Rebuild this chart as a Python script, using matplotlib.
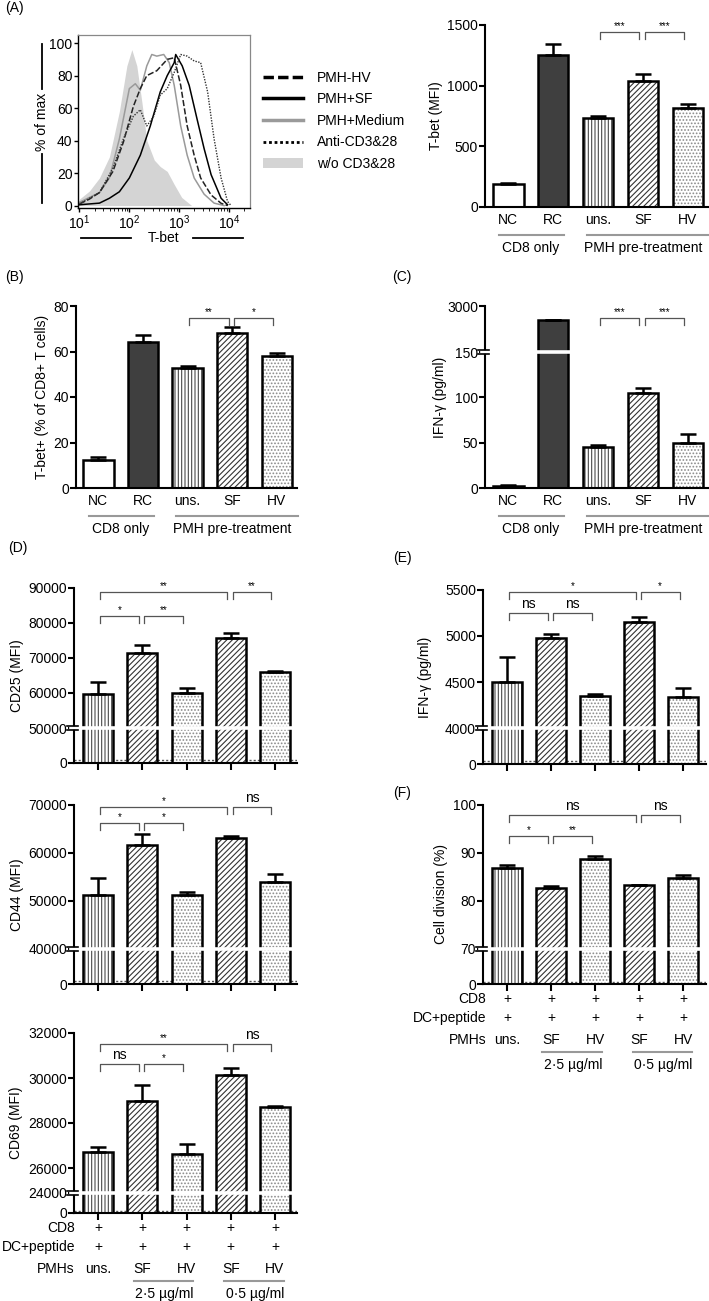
import numpy as np
import matplotlib
matplotlib.use("Agg")
import matplotlib.pyplot as plt
import matplotlib.transforms as mtransforms
from matplotlib.lines import Line2D
from matplotlib.patches import Patch

plt.rcParams["font.family"] = ["Liberation Sans", "DejaVu Sans"]
plt.rcParams["font.size"] = 10
plt.rcParams["mathtext.fontset"] = "custom"
plt.rcParams["mathtext.rm"] = "Liberation Sans"
plt.rcParams["hatch.linewidth"] = 0.8

#========================================#
# Data
#========================================#
# (A) flow histogram: log10(T-bet) vs % of max
wo_x = [0.97, 1.0, 1.2, 1.4, 1.6, 1.8, 1.95, 2.05, 2.15, 2.25, 2.35, 2.5, 2.62, 2.76, 2.9, 3.05, 3.25]
wo_y = [0, 4, 9, 17, 30, 58, 86, 96, 86, 64, 40, 28, 24, 21, 13, 5, 0]
med_x = [1.0, 1.2, 1.4, 1.6, 1.8, 2.0, 2.12, 2.22, 2.35, 2.45, 2.55, 2.69, 2.8, 2.9, 3.03, 3.16, 3.3, 3.5, 3.7, 3.9]
med_y = [2, 5, 8, 17, 41, 72, 75, 71, 86, 93, 92, 93, 88, 74, 49, 31, 17, 7, 1.5, 0]
hv_x = [1.0, 1.2, 1.4, 1.67, 1.88, 2.08, 2.22, 2.35, 2.55, 2.76, 2.9, 3.03, 3.16, 3.3, 3.43, 3.64, 3.84, 3.97]
hv_y = [1, 4, 8, 21, 39, 61, 72, 80, 83, 90, 91, 74, 49, 31, 17, 6.5, 1.4, 0]
sf_x = [1.0, 1.4, 1.6, 1.8, 2.0, 2.22, 2.42, 2.62, 2.76, 2.9, 2.93, 3.06, 3.2, 3.36, 3.5, 3.64, 3.84, 3.97]
sf_y = [0.5, 1.5, 4.5, 8.5, 17, 31, 49, 70, 80, 88, 93, 86, 74, 53, 35, 19, 4.5, 0.5]
cd3_x = [1.0, 1.4, 1.67, 1.88, 2.08, 2.22, 2.35, 2.49, 2.62, 2.76, 2.9, 3.03, 3.16, 3.3, 3.43, 3.57, 3.7, 3.84, 3.97, 4.04]
cd3_y = [1, 8, 23, 41, 55, 59, 49, 55, 68, 72, 82, 93, 92, 89, 88, 70, 41, 17, 2.5, 0]

# (A-C) bar charts
abc_cats = ["NC", "RC", "uns.", "SF", "HV"]
abc_kinds = ["NC", "RC", "uns", "SF", "HV"]
tbet_mfi = [190, 1250, 730, 1035, 815]
tbet_mfi_err = [10, 95, 20, 65, 35]
tbet_pct = [12.3, 64.2, 52.7, 68.0, 58.0]
tbet_pct_err = [1.3, 3.1, 0.9, 2.8, 1.3]
ifng_c = [2, 2130, 45, 105, 50]
ifng_c_err = [1, 0, 2, 5, 10]

# (D-F) bar charts
def_kinds = ["uns", "SF", "HV", "SF", "HV"]
pmh_labels = ["uns.", "SF", "HV", "SF", "HV"]
cd25 = [59700, 71400, 59900, 75700, 66000]
cd25_err = [3400, 2300, 1400, 1400, 400]
cd44 = [51300, 61700, 51300, 63100, 54000]
cd44_err = [3400, 2300, 600, 400, 1700]
cd69 = [26710, 28980, 26620, 30130, 28710]
cd69_err = [220, 710, 450, 310, 50]
ifng_e = [4500, 4980, 4350, 5150, 4340]
ifng_e_err = [270, 40, 15, 60, 100]
division = [86.8, 82.7, 88.8, 83.4, 84.7]
division_err = [0.8, 0.4, 0.6, 0.0, 0.8]
# background (control) levels drawn as dotted lines
cd25_ctrl, cd44_ctrl, cd69_ctrl, ifng_e_ctrl, division_ctrl = 4000, 3400, 2400, 330, 5

# significance: (i, j, label, level)
sig_a = [(2, 3, "***", 1440), (3, 4, "***", 1440)]
sig_b = [(2, 3, "**", 74.7), (3, 4, "*", 74.7)]
sig_c = [(2, 3, "***", 2250), (3, 4, "***", 2250)]
sig_cd25 = [(0, 3, "**", 88900), (3, 4, "**", 88900), (0, 1, "*", 82000), (1, 2, "**", 82000)]
sig_cd44 = [(0, 3, "*", 69600), (3, 4, "ns", 69600), (0, 1, "*", 66300), (1, 2, "*", 66300)]
sig_cd69 = [(0, 3, "**", 31510), (3, 4, "ns", 31510), (0, 1, "ns", 30640), (1, 2, "*", 30640)]
sig_e = [(0, 3, "*", 5480), (3, 4, "*", 5480), (0, 1, "ns", 5250), (1, 2, "ns", 5250)]
sig_f = [(0, 3, "ns", 97.9), (3, 4, "ns", 97.9), (0, 1, "*", 93.5), (1, 2, "**", 93.5)]

#========================================#
# Styles / helpers
#========================================#
W, H = 709, 1301
fig = plt.figure(figsize=(W / 100, H / 100), dpi=100)

FILL = {"NC": ("white", None, "black"),
        "RC": ("#3f3f3f", None, "#3f3f3f"),
        "uns": ("white", "|||||", "#4a4a4a"),
        "SF": ("white", "//////", "#333333"),
        "HV": ("white", ".....", "#8a8a8a")}
BW = 0.68
LW = 1.8


def add_ax(left, top, right, bottom):
    return fig.add_axes([left / W, 1 - bottom / H, (right - left) / W, (bottom - top) / H])


def piecewise(ax, kd, kp):
    kd = np.asarray(kd, float)
    kp = np.asarray(kp, float)

    def make(a, b):
        def f(v):
            v = np.asarray(v, float)
            out = np.interp(v, a, b)
            lo = a[0] + 0 * v
            out = np.where(v < a[0], b[0] + (v - a[0]) * (b[1] - b[0]) / (a[1] - a[0]), out)
            out = np.where(v > a[-1], b[-1] + (v - a[-1]) * (b[-1] - b[-2]) / (a[-1] - a[-2]), out)
            return out
        return f
    ax.set_yscale("function", functions=(make(kd, kp), make(kp, kd)))


def style_bar_ax(ax, ticks, xlim, xticks_on):
    for s in ["top", "right"]:
        ax.spines[s].set_visible(False)
    for s in ["left", "bottom"]:
        ax.spines[s].set_linewidth(1.5)
    ax.set_yticks(ticks)
    ax.set_yticklabels([str(t) for t in ticks])
    ax.yaxis.set_minor_locator(matplotlib.ticker.NullLocator())
    ax.tick_params(axis="y", length=4, width=1.5, pad=1, labelsize=10)
    ax.set_xlim(*xlim)
    ax.set_ylim(0, ticks[-1])
    x = np.arange(5)
    ax.set_xticks(x)
    if xticks_on:
        ax.set_xticklabels([""] * 5)
        ax.tick_params(axis="x", length=5, width=1.5)
    else:
        ax.tick_params(axis="x", length=0, pad=4, labelsize=10)


def draw_bars(ax, means, errs, kinds, ctrl=None):
    x = np.arange(len(means))
    for xi, m, k in zip(x, means, kinds):
        face, hatch, hcol = FILL[k]
        ax.bar(xi, m, width=BW, color=face, hatch=hatch, edgecolor=hcol, linewidth=0, zorder=2)
        ax.bar(xi, m, width=BW, fill=False, edgecolor="black", linewidth=LW, zorder=3)
    ax.errorbar(x, means, yerr=[np.zeros(len(errs)), errs], fmt="none", ecolor="black",
                elinewidth=LW, capsize=6, capthick=LW, zorder=3)
    if ctrl is not None:
        ax.axhline(ctrl, color="#555555", ls=(0, (1.5, 1.5)), lw=1.0, zorder=1)


def ybreak(ax, b):
    tr = mtransforms.blended_transform_factory(ax.transAxes, ax.transData)
    ax.plot([-0.012, 1.0], [b, b], transform=tr, color="white", lw=2.6, zorder=6, clip_on=False)
    for dy in (-2.2, 2.2):
        t2 = mtransforms.offset_copy(tr, fig=fig, y=dy, units="dots")
        ax.plot([-0.03, 0.02], [b, b], transform=t2, color="black", lw=1.2, zorder=7, clip_on=False)


def brackets(ax, sigs):
    for i, j, lab, y in sigs:
        x1, x2 = i + 0.04, j - 0.08
        p = ax.transData.transform((x1, y))
        ylo = ax.transData.inverted().transform((p[0], p[1] - 7))[1]
        ax.plot([x1, x1, x2, x2], [ylo, y, y, ylo], color="#555555", lw=0.9, zorder=4, clip_on=False)
        if lab == "ns":
            ax.annotate(lab, ((x1 + x2) / 2, y), xytext=(0, 2), textcoords="offset pixels",
                        ha="center", va="bottom", fontsize=10, annotation_clip=False)
        else:
            ax.annotate(lab, ((x1 + x2) / 2, y), xytext=(0, 1), textcoords="offset pixels",
                        ha="center", va="bottom", fontsize=7, annotation_clip=False)


def below_text(ax, x, dy, s, **kw):
    tr = mtransforms.blended_transform_factory(ax.transData, ax.transAxes)
    tr = mtransforms.offset_copy(tr, fig=fig, y=-dy, units="dots")
    ax.text(x, 0, s, transform=tr, ha="center", va="center", fontsize=10, clip_on=False, **kw)


def below_line(ax, x1, x2, dy):
    tr = mtransforms.blended_transform_factory(ax.transData, ax.transAxes)
    tr = mtransforms.offset_copy(tr, fig=fig, y=-dy, units="dots")
    ax.plot([x1, x2], [0, 0], transform=tr, color="#999999", lw=1.5, clip_on=False)


def set_ylabel_px(ax, text, right_px, left_px, width_px):
    ax.set_ylabel(text, fontsize=10)
    ax.yaxis.set_label_coords((right_px - left_px) / width_px, 0.5)


def abc_groups(ax):
    for i, c in enumerate(abc_cats):
        pass
    below_line(ax, -0.2, 1.25, 28)
    below_line(ax, 1.75, 4.47, 28)
    below_text(ax, 0.5, 41, "CD8 only")
    below_text(ax, 3.0, 41, "PMH pre-treatment")


def def_rows(ax, row_x_px, ax_left_px, ax_w_px):
    xa = (row_x_px - ax_left_px) / ax_w_px
    rows = [("CD8", ["+"] * 5, 15), ("DC+peptide", ["+"] * 5, 34), ("PMHs", pmh_labels, 56)]
    tra = mtransforms.blended_transform_factory(ax.transAxes, ax.transAxes)
    for name, vals, dy in rows:
        for xi, v in enumerate(vals):
            below_text(ax, xi, dy, v)
        t2 = mtransforms.offset_copy(tra, fig=fig, y=-dy, units="dots")
        ax.text(xa, 0, name, transform=t2, ha="right", va="center", fontsize=10, clip_on=False)
    below_line(ax, 0.8, 2.15, 68)
    below_line(ax, 2.85, 4.2, 68)
    below_text(ax, 1.5, 81, "2·5 µg/ml")
    below_text(ax, 3.55, 81, "0·5 µg/ml")


#========================================#
# (A) histogram
#========================================#
axh = add_ax(78, 35, 250, 208)
axh.fill_between(10 ** np.array(wo_x), wo_y, color="#d4d4d4", lw=0, zorder=1)
axh.plot(10 ** np.array(med_x), med_y, color="#9a9a9a", lw=1.1, zorder=2)
axh.plot(10 ** np.array(hv_x), hv_y, color="#222222", lw=1.1, ls=(0, (4, 1.5)), zorder=3)
axh.plot(10 ** np.array(sf_x), sf_y, color="black", lw=1.1, zorder=3)
axh.plot(10 ** np.array(cd3_x), cd3_y, color="#333333", lw=1.0, ls=(0, (1, 1)), zorder=3)
axh.set_xscale("log")
axh.set_xlim(10 ** 0.97, 10 ** 4.42)
axh.set_ylim(-1.5, 105)
axh.set_yticks([0, 20, 40, 60, 80, 100])
axh.tick_params(axis="both", labelsize=10, length=3, width=1, pad=1)
axh.tick_params(axis="x", which="minor", length=2)
axh.set_xticks([10, 100, 1000, 10000])
axh.set_xticklabels(["$10^1$", "$10^2$", "$10^3$", "$10^4$"])
for s in ["top", "right"]:
    axh.spines[s].set_color("#888888")
    axh.spines[s].set_linewidth(0.9)
for s in ["left", "bottom"]:
    axh.spines[s].set_linewidth(1.0)
axh.text(-0.21, 0.5, "% of max", transform=axh.transAxes, rotation=90, ha="center", va="center", fontsize=10)
axh.plot([-0.21, -0.21], [0.69, 0.95], transform=axh.transAxes, color="black", lw=1.3, clip_on=False)
axh.plot([-0.21, -0.21], [0.03, 0.31], transform=axh.transAxes, color="black", lw=1.3, clip_on=False)
axh.text(0.5, -0.175, "T-bet", transform=axh.transAxes, ha="center", va="center", fontsize=10)
axh.plot([0.02, 0.31], [-0.175, -0.175], transform=axh.transAxes, color="black", lw=1.3, clip_on=False)
axh.plot([0.67, 0.96], [-0.175, -0.175], transform=axh.transAxes, color="black", lw=1.3, clip_on=False)

handles = [Line2D([], [], color="black", lw=2.5, ls=(0, (3, 1.2))),
           Line2D([], [], color="black", lw=2.5),
           Line2D([], [], color="#9a9a9a", lw=2.5),
           Line2D([], [], color="black", lw=2.0, ls=(0, (1, 1))),
           Patch(facecolor="#d4d4d4", edgecolor="none")]
fig.legend(handles, ["PMH-HV", "PMH+SF", "PMH+Medium", "Anti-CD3&28", "w/o CD3&28"],
           loc="upper left", bbox_to_anchor=(250 / W, 1 - 58 / H), frameon=False,
           handlelength=2.9, handletextpad=1.0, labelspacing=0.55, fontsize=10)

#========================================#
# (A) T-bet MFI
#========================================#
axa = add_ax(485, 25, 708, 207)
draw_bars(axa, tbet_mfi, tbet_mfi_err, abc_kinds)
style_bar_ax(axa, [0, 500, 1000, 1500], (-0.52, 4.45), False)
axa.set_xticklabels(abc_cats)
brackets(axa, sig_a)
abc_groups(axa)
set_ylabel_px(axa, "T-bet (MFI)", 443, 485, 223)

#========================================#
# (B) T-bet+ %
#========================================#
axb = add_ax(76, 306, 297, 488)
draw_bars(axb, tbet_pct, tbet_pct_err, abc_kinds)
style_bar_ax(axb, [0, 20, 40, 60, 80], (-0.5, 4.45), False)
axb.set_xticklabels(abc_cats)
brackets(axb, sig_b)
abc_groups(axb)
set_ylabel_px(axb, "T-bet+ (% of CD8+ T cells)", 49, 76, 221)

#========================================#
# (C) IFN-g, broken axis
#========================================#
axc = add_ax(485, 306, 708, 488)
piecewise(axc, [0, 150, 3000], [0, 136, 182])
draw_bars(axc, ifng_c, ifng_c_err, abc_kinds)
style_bar_ax(axc, [0, 50, 100, 150, 3000], (-0.52, 4.45), False)
axc.set_xticklabels(abc_cats)
ybreak(axc, 150)
brackets(axc, sig_c)
abc_groups(axc)
set_ylabel_px(axc, "IFN-γ (pg/ml)", 447, 485, 223)

#========================================#
# (D) CD25 / CD44 / CD69
#========================================#
axd1 = add_ax(74, 588, 297, 763)
piecewise(axd1, [0, 50000, 90000], [0, 35, 175])
draw_bars(axd1, cd25, cd25_err, def_kinds, cd25_ctrl)
style_bar_ax(axd1, [0, 50000, 60000, 70000, 80000, 90000], (-0.55, 4.5), True)
ybreak(axd1, 50000)
brackets(axd1, sig_cd25)
set_ylabel_px(axd1, "CD25 (MFI)", 24, 74, 223)

axd2 = add_ax(74, 805, 297, 984)
piecewise(axd2, [0, 40000, 70000], [0, 35, 179])
draw_bars(axd2, cd44, cd44_err, def_kinds, cd44_ctrl)
style_bar_ax(axd2, [0, 40000, 50000, 60000, 70000], (-0.55, 4.5), True)
ybreak(axd2, 40000)
brackets(axd2, sig_cd44)
set_ylabel_px(axd2, "CD44 (MFI)", 24, 74, 223)

axd3 = add_ax(74, 1033, 297, 1213)
piecewise(axd3, [0, 24000, 26000, 32000], [0, 20, 45, 180])
draw_bars(axd3, cd69, cd69_err, def_kinds, cd69_ctrl)
style_bar_ax(axd3, [0, 24000, 26000, 28000, 30000, 32000], (-0.55, 4.5), True)
ybreak(axd3, 24000)
brackets(axd3, sig_cd69)
set_ylabel_px(axd3, "CD69 (MFI)", 23, 74, 223)
def_rows(axd3, 75, 74, 223)

#========================================#
# (E) IFN-g
#========================================#
axe = add_ax(483, 590, 706, 764)
piecewise(axe, [0, 4000, 5500], [0, 36, 174])
draw_bars(axe, ifng_e, ifng_e_err, def_kinds, ifng_e_ctrl)
style_bar_ax(axe, [0, 4000, 4500, 5000, 5500], (-0.55, 4.52), True)
ybreak(axe, 4000)
brackets(axe, sig_e)
set_ylabel_px(axe, "IFN-γ (pg/ml)", 432, 483, 223)

#========================================#
# (F) Cell division
#========================================#
axf = add_ax(483, 805, 706, 984)
piecewise(axf, [0, 70, 100], [0, 35, 179])
draw_bars(axf, division, division_err, def_kinds, division_ctrl)
style_bar_ax(axf, [0, 70, 80, 90, 100], (-0.55, 4.52), True)
ybreak(axf, 70)
brackets(axf, sig_f)
set_ylabel_px(axf, "Cell division (%)", 448, 483, 223)
def_rows(axf, 486, 483, 223)

# panel letters
for lab, x, y in [("(A)", 5, 8), ("(B)", 5, 277), ("(C)", 392, 277), ("(D)", 8, 548),
                  ("(E)", 393, 558), ("(F)", 393, 793)]:
    fig.text(x / W, 1 - y / H, lab, ha="left", va="center", fontsize=10)

fig.savefig("out.png", dpi=100)
